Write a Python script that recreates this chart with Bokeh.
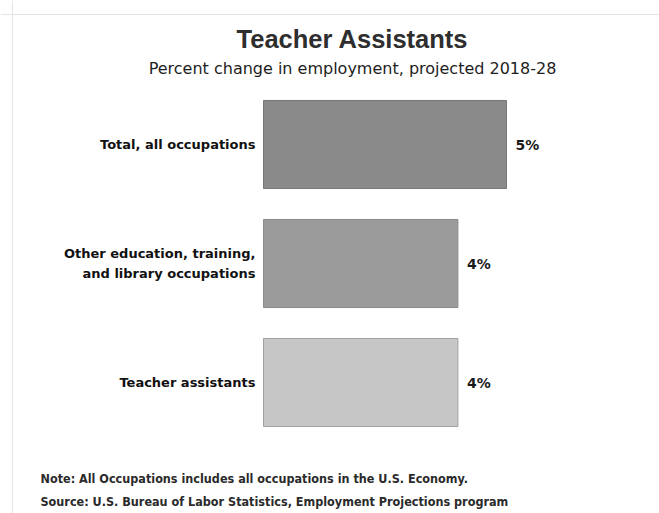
from bokeh.plotting import figure
from bokeh.models import Range1d, Label, ColumnDataSource, Span
from bokeh.core.properties import value
from bokeh.embed import file_html
from bokeh.resources import INLINE

# Projected percent change in employment, 2018-28
categories = [
    "Total, all occupations",
    "Other education, training,\nand library occupations",
    "Teacher assistants",
]
pct_change = [5, 4, 4]
value_labels = ["5%", "4%", "4%"]
bar_colors = ["#8a8a8a", "#9b9b9b", "#c6c6c6"]
edge_colors = ["#767676", "#8a8a8a", "#a0a0a0"]

title_text = "Teacher Assistants"
subtitle_text = "Percent change in employment, projected 2018-28"
note_text = "Note: All Occupations includes all occupations in the U.S. Economy."
source_text = "Source: U.S. Bureau of Labor Statistics, Employment Projections program"

# Canvas geometry: the frame fills the page, the scales place zero and the rows
W, H = 659, 513
ZERO_PX = 263          # horizontal pixel of 0%
PX_PER_PCT = 48.6      # pixels per percentage point
FIRST_ROW_PX = 144     # vertical pixel of the first bar's centre
ROW_PX = 119           # distance between bar centres


def sx(px):
    return (px - ZERO_PX) / PX_PER_PCT


def sy(py):
    return (py - FIRST_ROW_PX) / ROW_PX


rows = list(range(len(categories)))

p = figure(
    width=W, height=H,
    x_range=Range1d(sx(0), sx(W)),
    y_range=Range1d(sy(H), sy(0)),
    output_backend="svg", toolbar_location=None,
    x_axis_location=None, y_axis_location=None,
    min_border=0,
)
p.outline_line_color = None
p.background_fill_color = "white"
p.border_fill_color = "white"
p.xgrid.visible = False
p.ygrid.visible = False

# faint page edges
p.add_layout(Span(location=sx(12), dimension="height", line_color="#e4e4e4", line_width=1))
p.add_layout(Span(location=sy(14), dimension="width", line_color="#e4e4e4", line_width=1))

src = ColumnDataSource(dict(
    row=rows, cat=categories, pct=pct_change, lab=value_labels,
    fill=bar_colors, edge=edge_colors,
))

p.hbar(y="row", left=0, right="pct", height=0.74, source=src,
       fill_color="fill", line_color="edge", line_width=1)

# category names to the left of the bars
p.text(x=0, y="row", text="cat", source=src, x_offset=-8,
       text_align="right", text_baseline="middle",
       text_font=value("DejaVu Sans"), text_font_style="bold",
       text_font_size="13px", text_line_height=1.35, text_color="#111111")

# value labels at the end of the bars
p.text(x="pct", y="row", text="lab", source=src, x_offset=9,
       text_align="left", text_baseline="middle",
       text_font=value("DejaVu Sans"), text_font_style="bold",
       text_font_size="14px", text_color="#1a1a1a")

p.add_layout(Label(x=sx(352), y=sy(38), text=title_text,
                   text_align="center", text_baseline="middle",
                   text_font="Liberation Sans", text_font_style="bold",
                   text_font_size="25.5px", text_color="#2e2e2e"))
p.add_layout(Label(x=sx(352), y=sy(68), text=subtitle_text,
                   text_align="center", text_baseline="middle",
                   text_font="DejaVu Sans", text_font_size="16px",
                   text_color="#1e1e1e"))
p.add_layout(Label(x=sx(40), y=sy(478), text=note_text,
                   text_align="left", text_baseline="middle",
                   text_font="DejaVu Sans Condensed", text_font_style="bold",
                   text_font_size="12.5px", text_color="#2a2a2a"))
p.add_layout(Label(x=sx(40), y=sy(501), text=source_text,
                   text_align="left", text_baseline="middle",
                   text_font="DejaVu Sans Condensed", text_font_style="bold",
                   text_font_size="12.5px", text_color="#2a2a2a"))

open("out.html", "w").write(file_html(p, INLINE))
